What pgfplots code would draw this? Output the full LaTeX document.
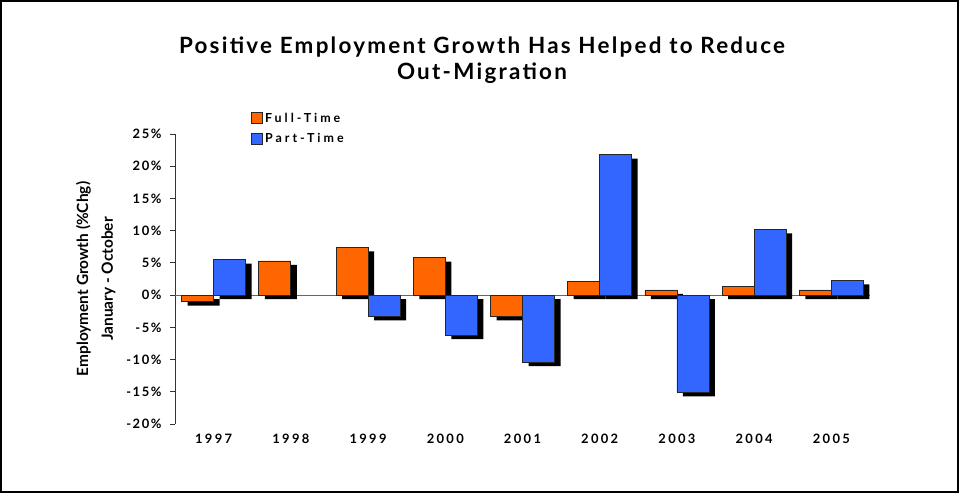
\documentclass[border=0pt]{standalone}
\usepackage{pgfplots}
\pgfplotsset{compat=1.18}
\usepackage{pgfplotstable}
\usepackage{fontspec}
\setmainfont{Lato}
\newfontfamily\titlefont[LetterSpace=10]{Lato}
\newfontfamily\tickfont[LetterSpace=12]{Lato}
\newfontfamily\yearfont[LetterSpace=18]{Lato}
\newfontfamily\legfont[LetterSpace=24]{Lato}

\definecolor{ftorange}{HTML}{FF6600}
\definecolor{ptblue}{HTML}{3366FF}

% employment growth, Jan-Oct, % change
\pgfplotstableread{
x year ft pt
0 1997 -1.0 5.5
1 1998 5.3 nan
2 1999 7.4 -3.3
3 2000 5.8 -6.2
4 2001 -3.3 -10.4
5 2002 2.1 21.8
6 2003 0.8 -15.1
7 2004 1.35 10.2
8 2005 0.8 2.3
}\growth

\begin{document}
\begin{tikzpicture}
\path (0,0) rectangle (959bp,-493bp);
\draw[line width=2bp] (1bp,-1bp) rectangle (958bp,-492bp);
\node[align=center, font=\titlefont\bfseries\fontsize{22.5}{26}\selectfont]
  at (482bp,-60bp) {Positive Employment Growth Has Helped to Reduce\\Out-Migration};
\begin{axis}[
    at={(175bp,-424bp)}, anchor=south west,
    scale only axis, width=695bp, height=290bp,
    xmin=-0.5, xmax=8.5, ymin=-20, ymax=25,
    ybar, bar width=32bp,
    unbounded coords=discard,
    axis y line*=left, axis x line*=bottom,
    x axis line style={draw=none},
    y axis line style={black!80, line width=1bp},
    xtick={0,...,8},
    xticklabels={1997,1998,1999,2000,2001,2002,2003,2004,2005},
    xtick style={draw=none},
    x tick label style={font=\yearfont\bfseries\fontsize{13}{15}\selectfont, yshift=-2bp},
    ytick={-20,-15,...,25},
    yticklabel={\pgfmathprintnumber{\tick}\%},
    /pgf/number format/assume math mode=true,
    tick align=outside, major tick length=5bp,
    ytick style={black!80, line width=1bp},
    extra y ticks={0}, extra y tick labels={},
    extra y tick style={grid=major, major grid style={black!60, line width=1bp}},
    y tick label style={font=\tickfont\bfseries\fontsize{13}{15}\selectfont, xshift=-5bp},
    ylabel={Employment Growth (\%Chg)\\January - October},
    ylabel style={align=center, font=\bfseries\fontsize{15.5}{25}\selectfont, yshift=-6bp},
    legend style={at={(0.1095,1.08)}, anchor=north west, draw=none, fill=none,
      font=\legfont\bfseries\fontsize{12.5}{14}\selectfont,
      row sep=6bp, inner sep=0pt},
    legend cell align=left,
    legend image code/.code={\draw[#1] (0bp,-5.5bp) rectangle (11bp,5.5bp);},
]
\addplot[fill=black, draw=none, bar shift=-16bp, xshift=6bp, yshift=-4bp, forget plot]
  table[x=x, y=ft]{\growth};
\addplot[fill=black, draw=none, bar shift=16bp, xshift=6bp, yshift=-4bp, forget plot]
  table[x=x, y=pt]{\growth};
\addplot[fill=ftorange, draw=black!85, line width=0.8bp, bar shift=-16bp]
  table[x=x, y=ft]{\growth};
\addplot[fill=ptblue, draw=black!85, line width=0.8bp, bar shift=16bp]
  table[x=x, y=pt]{\growth};
\legend{Full-Time, Part-Time}
\end{axis}
\end{tikzpicture}
\end{document}
